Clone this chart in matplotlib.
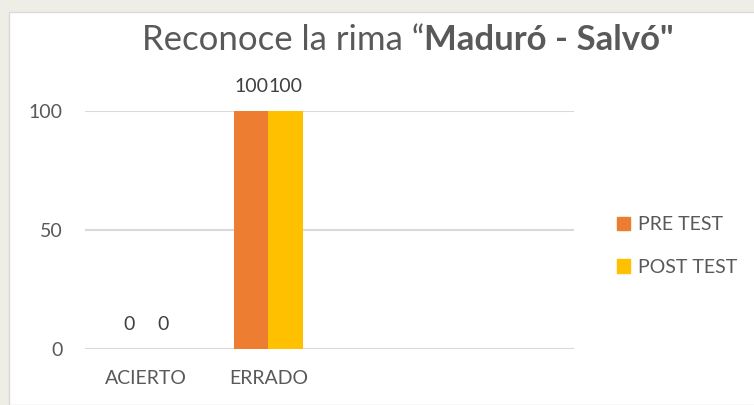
import matplotlib
matplotlib.use("Agg")
import matplotlib.pyplot as plt
from matplotlib.patches import Rectangle, Patch
import numpy as np

# datos del grafico
categorias = ["ACIERTO", "ERRADO"]
pre_test = [0, 100]
post_test = [0, 100]
series = ["PRE TEST", "POST TEST"]
colores = ["#ED7D31", "#FFC000"]
yticks = [0, 50, 100]
n_slots = 4  # el grafico original deja dos categorias vacias

plt.rcParams['font.family'] = ['Lato', 'DejaVu Sans']
gris = "#595959"

W, H = 754, 405
fig = plt.figure(figsize=(W / 100, H / 100), dpi=100, facecolor="#eeede6")
# fondo blanco del area del grafico
fig.patches.append(Rectangle((9 / W, 0), 1, 1 - 12 / H, transform=fig.transFigure,
                             facecolor="white", edgecolor="#d9d9d9", lw=1, zorder=-5))

ax = fig.add_axes([85 / W, 56 / H, 489 / W, 238 / H])
ax.set_facecolor("none")

x = np.arange(len(categorias))
w = 0.28
b1 = ax.bar(x - w / 2, pre_test, w, color=colores[0], label=series[0], zorder=3)
b2 = ax.bar(x + w / 2, post_test, w, color=colores[1], label=series[1], zorder=3)

for barras in (b1, b2):
    for r in barras:
        ax.annotate(f"{r.get_height():g}", (r.get_x() + r.get_width() / 2, r.get_height()),
                    xytext=(0, 18), textcoords="offset points", ha="center", va="center",
                    fontsize=14, color="#404040")

ax.set_xlim(-0.5, n_slots - 0.5)
ax.set_ylim(0, 100)
ax.set_yticks(yticks)
ax.set_xticks(x)
ax.set_xticklabels(categorias)
ax.tick_params(length=0, labelsize=14, labelcolor=gris)
ax.tick_params(axis="y", pad=16)
ax.tick_params(axis="x", pad=15)
ax.grid(axis="y", color="#d9d9d9", lw=1.5, zorder=0)
ax.set_axisbelow(True)
for s in ax.spines.values():
    s.set_visible(False)

# titulo con parte en negrita
fig.canvas.draw()
r = fig.canvas.get_renderer()
t1 = fig.text(0, 0, "Reconoce la rima “", fontsize=25, color=gris)
t2 = fig.text(0, 0, "Maduró - Salvó\"", fontsize=25, color=gris, fontweight="bold")
w1 = t1.get_window_extent(r).width
w2 = t2.get_window_extent(r).width
x0 = (408 - (w1 + w2) / 2) / W
t1.set_position((x0, 1 - 40 / H))
t2.set_position((x0 + w1 / W, 1 - 40 / H))
t1.set_va("center")
t2.set_va("center")

fig.legend(handles=[Patch(color=c) for c in colores], labels=series,
           loc="center left", bbox_to_anchor=(607 / W, 1 - 246 / H),
           frameon=False, fontsize=14, labelcolor=gris, handlelength=0.7,
           handleheight=0.7, handletextpad=0.4, labelspacing=1.3, borderpad=0)

fig.savefig("out.png", dpi=100, facecolor=fig.get_facecolor())
